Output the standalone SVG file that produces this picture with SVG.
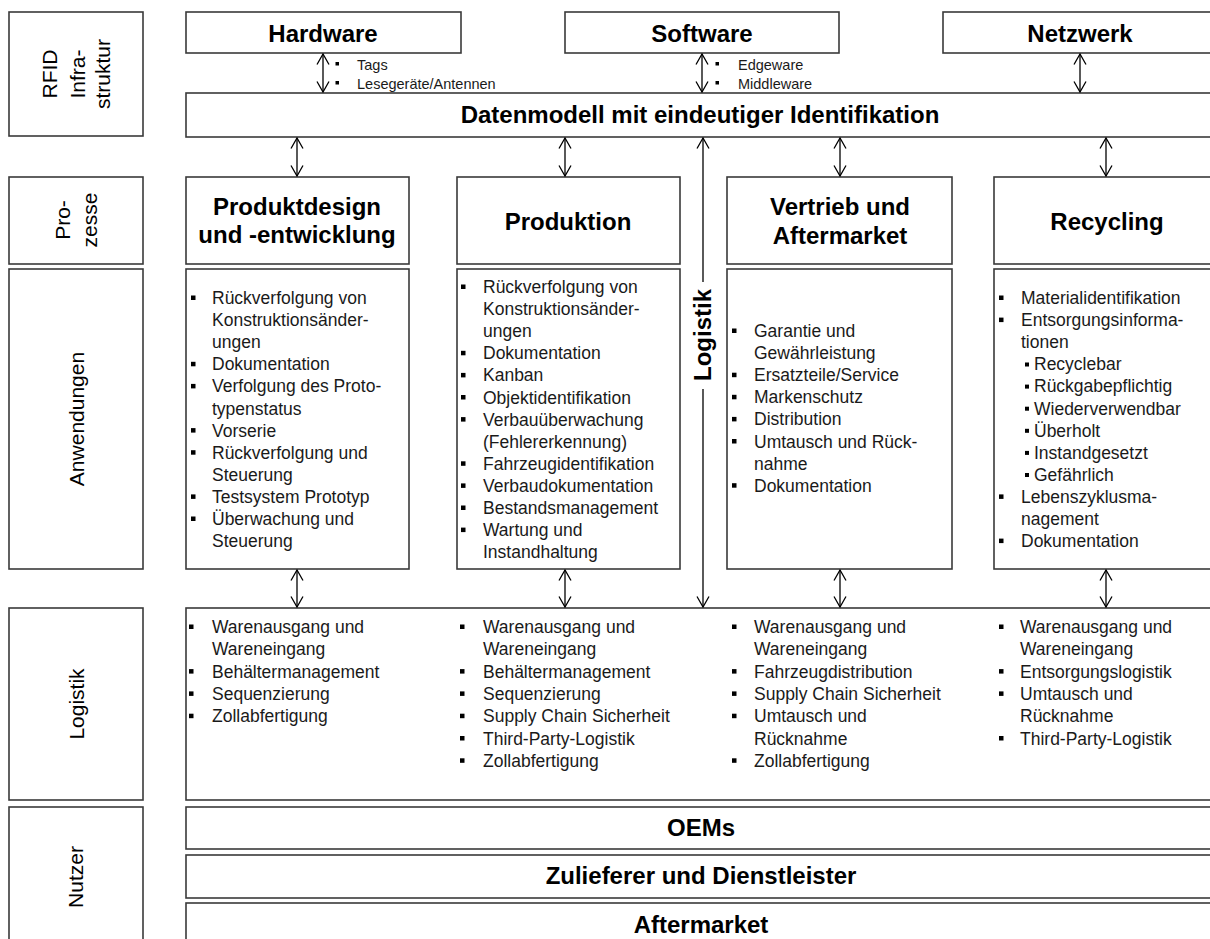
<svg xmlns="http://www.w3.org/2000/svg" width="1210" height="939" viewBox="0 0 1210 939">
<defs>
<style>
.box{fill:#fff;stroke:#3a3a3a;stroke-width:1.6}
.h{font-family:"Liberation Sans",Arial,sans-serif;font-weight:bold;font-size:24px;text-anchor:middle;fill:#000}
.t{font-family:"Liberation Sans",Arial,sans-serif;font-size:17.5px;fill:#1a1a1a}
.s{font-family:"Liberation Sans",Arial,sans-serif;font-size:14.5px;fill:#1a1a1a}
.lab{font-family:"Liberation Sans",Arial,sans-serif;font-size:21px;text-anchor:middle;fill:#000}
.b{fill:#000}
.c{stroke:#000;stroke-width:1.3;fill:none}
.c2{marker-start:url(#ah);marker-end:url(#ah)}
</style>
<marker id="ah" viewBox="0 0 12 14" refX="11" refY="7" markerWidth="12" markerHeight="14" orient="auto-start-reverse" markerUnits="userSpaceOnUse">
<path d="M0.5,1 L11,7 L0.5,13" fill="none" stroke="#000" stroke-width="1.3"/>
</marker>
</defs>
<rect width="1210" height="939" fill="#fff"/>

<g id="lab-rfid">
<rect class="box" x="9" y="12" width="134" height="124"/>
<text class="lab" transform="translate(57,74) rotate(-90)">RFID</text>
<text class="lab" transform="translate(85,74) rotate(-90)">Infra-</text>
<text class="lab" transform="translate(110,74) rotate(-90)">struktur</text>
</g>
<g id="lab-prozesse">
<rect class="box" x="9" y="177" width="134" height="87"/>
<text class="lab" transform="translate(70,220) rotate(-90)">Pro-</text>
<text class="lab" transform="translate(97,220) rotate(-90)">zesse</text>
</g>
<g id="lab-anwendungen">
<rect class="box" x="9" y="269" width="134" height="300"/>
<text class="lab" transform="translate(84,419) rotate(-90)">Anwendungen</text>
</g>
<g id="lab-logistik">
<rect class="box" x="9" y="608" width="134" height="192"/>
<text class="lab" transform="translate(84,704) rotate(-90)">Logistik</text>
</g>
<g id="lab-nutzer">
<rect class="box" x="9" y="807" width="134" height="140"/>
<text class="lab" transform="translate(83,877) rotate(-90)">Nutzer</text>
</g>

<g id="hardware">
<rect class="box" x="186" y="12" width="275" height="41"/>
<text class="h" x="323" y="42">Hardware</text>
</g>
<g id="software">
<rect class="box" x="565" y="12" width="274" height="41"/>
<text class="h" x="702" y="42">Software</text>
</g>
<g id="netzwerk">
<rect class="box" x="943" y="12" width="277" height="41"/>
<text class="h" x="1080" y="42">Netzwerk</text>
</g>
<g id="hw-items">
<rect class="b" x="335.5" y="62" width="3.5" height="3.5"/>
<rect class="b" x="335.5" y="81" width="3.5" height="3.5"/>
<text class="s" x="357" y="70">Tags</text>
<text class="s" x="357" y="89">Lesegeräte/Antennen</text>
</g>
<g id="sw-items">
<rect class="b" x="715.5" y="62" width="3.5" height="3.5"/>
<rect class="b" x="715.5" y="81" width="3.5" height="3.5"/>
<text class="s" x="738" y="70">Edgeware</text>
<text class="s" x="738" y="89">Middleware</text>
</g>

<g id="datenmodell">
<rect class="box" x="186" y="93" width="1034" height="44"/>
<text class="h" x="700" y="123">Datenmodell mit eindeutiger Identifikation</text>
</g>

<g id="p-produktdesign">
<rect class="box" x="186" y="177" width="223" height="87"/>
<text class="h" x="297" y="215">Produktdesign</text>
<text class="h" x="297" y="243">und -entwicklung</text>
</g>
<g id="p-produktion">
<rect class="box" x="457" y="177" width="223" height="87"/>
<text class="h" x="568" y="230">Produktion</text>
</g>
<g id="p-vertrieb">
<rect class="box" x="727" y="177" width="225" height="87"/>
<text class="h" x="840" y="215">Vertrieb und</text>
<text class="h" x="840" y="244">Aftermarket</text>
</g>
<g id="p-recycling">
<rect class="box" x="994" y="177" width="226" height="87"/>
<text class="h" x="1107" y="230">Recycling</text>
</g>

<g id="a-produktdesign">
<rect class="box" x="186" y="269" width="223" height="300"/>
<g class="b">
<rect x="191" y="295.5" width="4.5" height="4.5"/>
<rect x="191" y="361.8" width="4.5" height="4.5"/>
<rect x="191" y="383.9" width="4.5" height="4.5"/>
<rect x="191" y="428.1" width="4.5" height="4.5"/>
<rect x="191" y="450.2" width="4.5" height="4.5"/>
<rect x="191" y="494.4" width="4.5" height="4.5"/>
<rect x="191" y="516.5" width="4.5" height="4.5"/>
</g>
<text class="t"><tspan x="212" y="304">Rückverfolgung von</tspan><tspan x="212" dy="22.1">Konstruktionsänder-</tspan><tspan x="212" dy="22.1">ungen</tspan><tspan x="212" dy="22.1">Dokumentation</tspan><tspan x="212" dy="22.1">Verfolgung des Proto-</tspan><tspan x="212" dy="22.1">typenstatus</tspan><tspan x="212" dy="22.1">Vorserie</tspan><tspan x="212" dy="22.1">Rückverfolgung und</tspan><tspan x="212" dy="22.1">Steuerung</tspan><tspan x="212" dy="22.1">Testsystem Prototyp</tspan><tspan x="212" dy="22.1">Überwachung und</tspan><tspan x="212" dy="22.1">Steuerung</tspan></text>
</g>

<g id="a-produktion">
<rect class="box" x="457" y="269" width="223" height="300"/>
<g class="b">
<rect x="461" y="284.5" width="4.5" height="4.5"/>
<rect x="461" y="350.8" width="4.5" height="4.5"/>
<rect x="461" y="372.9" width="4.5" height="4.5"/>
<rect x="461" y="395" width="4.5" height="4.5"/>
<rect x="461" y="417.1" width="4.5" height="4.5"/>
<rect x="461" y="461.3" width="4.5" height="4.5"/>
<rect x="461" y="483.4" width="4.5" height="4.5"/>
<rect x="461" y="505.5" width="4.5" height="4.5"/>
<rect x="461" y="527.6" width="4.5" height="4.5"/>
</g>
<text class="t"><tspan x="483" y="293">Rückverfolgung von</tspan><tspan x="483" dy="22.1">Konstruktionsänder-</tspan><tspan x="483" dy="22.1">ungen</tspan><tspan x="483" dy="22.1">Dokumentation</tspan><tspan x="483" dy="22.1">Kanban</tspan><tspan x="483" dy="22.1">Objektidentifikation</tspan><tspan x="483" dy="22.1">Verbauüberwachung</tspan><tspan x="483" dy="22.1">(Fehlererkennung)</tspan><tspan x="483" dy="22.1">Fahrzeugidentifikation</tspan><tspan x="483" dy="22.1">Verbaudokumentation</tspan><tspan x="483" dy="22.1">Bestandsmanagement</tspan><tspan x="483" dy="22.1">Wartung und</tspan><tspan x="483" dy="22.1">Instandhaltung</tspan></text>
</g>

<g id="a-vertrieb">
<rect class="box" x="727" y="269" width="225" height="300"/>
<g class="b">
<rect x="732" y="328.5" width="4.5" height="4.5"/>
<rect x="732" y="372.7" width="4.5" height="4.5"/>
<rect x="732" y="394.8" width="4.5" height="4.5"/>
<rect x="732" y="416.9" width="4.5" height="4.5"/>
<rect x="732" y="439" width="4.5" height="4.5"/>
<rect x="732" y="483.2" width="4.5" height="4.5"/>
</g>
<text class="t"><tspan x="754" y="337">Garantie und</tspan><tspan x="754" dy="22.1">Gewährleistung</tspan><tspan x="754" dy="22.1">Ersatzteile/Service</tspan><tspan x="754" dy="22.1">Markenschutz</tspan><tspan x="754" dy="22.1">Distribution</tspan><tspan x="754" dy="22.1">Umtausch und Rück-</tspan><tspan x="754" dy="22.1">nahme</tspan><tspan x="754" dy="22.1">Dokumentation</tspan></text>
</g>

<g id="a-recycling">
<rect class="box" x="994" y="269" width="226" height="300"/>
<g class="b">
<rect x="999" y="295.5" width="4.5" height="4.5"/>
<rect x="999" y="317.6" width="4.5" height="4.5"/>
<rect x="1025" y="362.5" width="4" height="4"/>
<rect x="1025" y="384.6" width="4" height="4"/>
<rect x="1025" y="406.7" width="4" height="4"/>
<rect x="1025" y="428.8" width="4" height="4"/>
<rect x="1025" y="450.9" width="4" height="4"/>
<rect x="1025" y="473" width="4" height="4"/>
<rect x="999" y="494.4" width="4.5" height="4.5"/>
<rect x="999" y="538.6" width="4.5" height="4.5"/>
</g>
<text class="t"><tspan x="1021" y="304">Materialidentifikation</tspan><tspan x="1021" dy="22.1">Entsorgungsinforma-</tspan><tspan x="1021" dy="22.1">tionen</tspan><tspan x="1034" dy="22.1">Recyclebar</tspan><tspan x="1034" dy="22.1">Rückgabepflichtig</tspan><tspan x="1034" dy="22.1">Wiederverwendbar</tspan><tspan x="1034" dy="22.1">Überholt</tspan><tspan x="1034" dy="22.1">Instandgesetzt</tspan><tspan x="1034" dy="22.1">Gefährlich</tspan><tspan x="1021" dy="22.1">Lebenszyklusma-</tspan><tspan x="1021" dy="22.1">nagement</tspan><tspan x="1021" dy="22.1">Dokumentation</tspan></text>
</g>

<g id="logistik">
<rect class="box" x="186" y="608" width="1034" height="192"/>
<g class="b">
<rect x="189" y="624.5" width="4.5" height="4.5"/>
<rect x="189" y="669.1" width="4.5" height="4.5"/>
<rect x="189" y="691.4" width="4.5" height="4.5"/>
<rect x="189" y="713.7" width="4.5" height="4.5"/>
<rect x="460" y="624.5" width="4.5" height="4.5"/>
<rect x="460" y="669.1" width="4.5" height="4.5"/>
<rect x="460" y="691.4" width="4.5" height="4.5"/>
<rect x="460" y="713.7" width="4.5" height="4.5"/>
<rect x="460" y="736" width="4.5" height="4.5"/>
<rect x="460" y="758.3" width="4.5" height="4.5"/>
<rect x="732" y="624.5" width="4.5" height="4.5"/>
<rect x="732" y="669.1" width="4.5" height="4.5"/>
<rect x="732" y="691.4" width="4.5" height="4.5"/>
<rect x="732" y="713.7" width="4.5" height="4.5"/>
<rect x="732" y="758.3" width="4.5" height="4.5"/>
<rect x="999" y="624.5" width="4.5" height="4.5"/>
<rect x="999" y="669.1" width="4.5" height="4.5"/>
<rect x="999" y="691.4" width="4.5" height="4.5"/>
<rect x="999" y="736" width="4.5" height="4.5"/>
</g>
<text class="t"><tspan x="212" y="633">Warenausgang und</tspan><tspan x="212" dy="22.3">Wareneingang</tspan><tspan x="212" dy="22.3">Behältermanagement</tspan><tspan x="212" dy="22.3">Sequenzierung</tspan><tspan x="212" dy="22.3">Zollabfertigung</tspan></text>
<text class="t"><tspan x="483" y="633">Warenausgang und</tspan><tspan x="483" dy="22.3">Wareneingang</tspan><tspan x="483" dy="22.3">Behältermanagement</tspan><tspan x="483" dy="22.3">Sequenzierung</tspan><tspan x="483" dy="22.3">Supply Chain Sicherheit</tspan><tspan x="483" dy="22.3">Third-Party-Logistik</tspan><tspan x="483" dy="22.3">Zollabfertigung</tspan></text>
<text class="t"><tspan x="754" y="633">Warenausgang und</tspan><tspan x="754" dy="22.3">Wareneingang</tspan><tspan x="754" dy="22.3">Fahrzeugdistribution</tspan><tspan x="754" dy="22.3">Supply Chain Sicherheit</tspan><tspan x="754" dy="22.3">Umtausch und</tspan><tspan x="754" dy="22.3">Rücknahme</tspan><tspan x="754" dy="22.3">Zollabfertigung</tspan></text>
<text class="t"><tspan x="1020" y="633">Warenausgang und</tspan><tspan x="1020" dy="22.3">Wareneingang</tspan><tspan x="1020" dy="22.3">Entsorgungslogistik</tspan><tspan x="1020" dy="22.3">Umtausch und</tspan><tspan x="1020" dy="22.3">Rücknahme</tspan><tspan x="1020" dy="22.3">Third-Party-Logistik</tspan></text>
</g>

<g id="oems">
<rect class="box" x="186" y="807" width="1034" height="42"/>
<text class="h" x="701" y="836">OEMs</text>
</g>
<g id="zulieferer">
<rect class="box" x="186" y="855" width="1034" height="43"/>
<text class="h" x="701" y="884">Zulieferer und Dienstleister</text>
</g>
<g id="aftermarket">
<rect class="box" x="186" y="903" width="1034" height="44"/>
<text class="h" x="701" y="933">Aftermarket</text>
</g>

<g id="connectors">
<line class="c c2" x1="323" y1="54" x2="323" y2="92"/>
<line class="c c2" x1="702" y1="54" x2="702" y2="92"/>
<line class="c c2" x1="1080" y1="54" x2="1080" y2="92"/>
<line class="c c2" x1="297" y1="138" x2="297" y2="176"/>
<line class="c c2" x1="565" y1="138" x2="565" y2="176"/>
<line class="c c2" x1="840" y1="138" x2="840" y2="176"/>
<line class="c c2" x1="1106" y1="138" x2="1106" y2="176"/>
<line class="c c2" x1="297" y1="570" x2="297" y2="607"/>
<line class="c c2" x1="565" y1="570" x2="565" y2="607"/>
<line class="c c2" x1="840" y1="570" x2="840" y2="607"/>
<line class="c c2" x1="1106" y1="570" x2="1106" y2="607"/>
<line class="c" x1="703" y1="282" x2="703" y2="138" marker-end="url(#ah)"/>
<line class="c" x1="703" y1="389" x2="703" y2="607" marker-end="url(#ah)"/>
<text class="h" transform="translate(711,335) rotate(-90)">Logistik</text>
</g>
</svg>
